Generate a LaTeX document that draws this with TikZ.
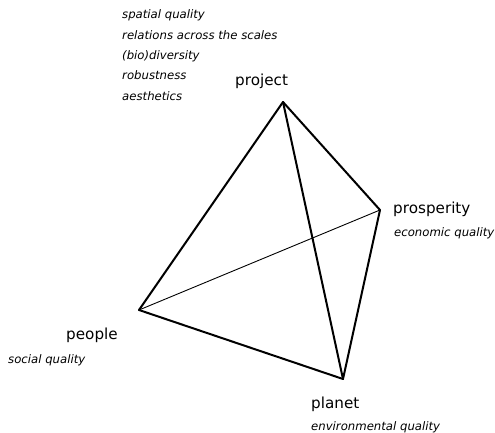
\documentclass[tikz,border=0pt]{standalone}
\usepackage{fontspec}
\setmainfont{DejaVu Sans}
\usetikzlibrary{positioning}

\def\AspectTop{19}
\def\AspectStep{20.3}

\begin{document}
\begin{tikzpicture}[
  x=1pt, y=-1pt, line cap=round, line join=round,
  edge/.style  ={black, line width=2pt},
  hidden/.style={black, line width=0.9pt},
  corner/.style={font=\fontsize{15.2}{18}\selectfont, anchor=base west, inner sep=0pt},
  quality/.style={font=\fontsize{11.7}{14}\selectfont\itshape, anchor=base west, inner sep=0pt}
]
\useasboundingbox (0,0) rectangle (495,433);

% --- Corners of the tetrahedron ----------------------------------------
\coordinate (project)    at (283,102);
\coordinate (prosperity) at (380,210);
\coordinate (people)     at (139,310);
\coordinate (planet)     at (343,379);

% --- Edges: the back one thin ------------------------------------------
\draw[hidden] (people) -- (prosperity);
\draw[edge] (project) -- (people) -- (planet) -- (prosperity) -- cycle;
\draw[edge] (project) -- (planet);

% --- Labels ---------------------------------------------------------------
\node[corner] (projectlabel) at (235,86) {project};
\foreach \txt [count=\i] in {spatial quality, relations across the scales,
    (bio)diversity, robustness, aesthetics}
  \node[quality] (aspect\i) at (122,{\AspectTop+(\i-1)*\AspectStep}) {\txt};

\node[corner]  (prosperitylabel) at (393,213) {prosperity};
\node[quality] (economic)        at (394,236) {economic quality};

\node[corner]  (peoplelabel) at (66,339) {people};
\node[quality] (social)      at (8,363)  {social quality};

\node[corner]  (planetlabel)   at (311,408) {planet};
\node[quality] (environmental) at (311,430) {environmental quality};

\end{tikzpicture}
\end{document}
